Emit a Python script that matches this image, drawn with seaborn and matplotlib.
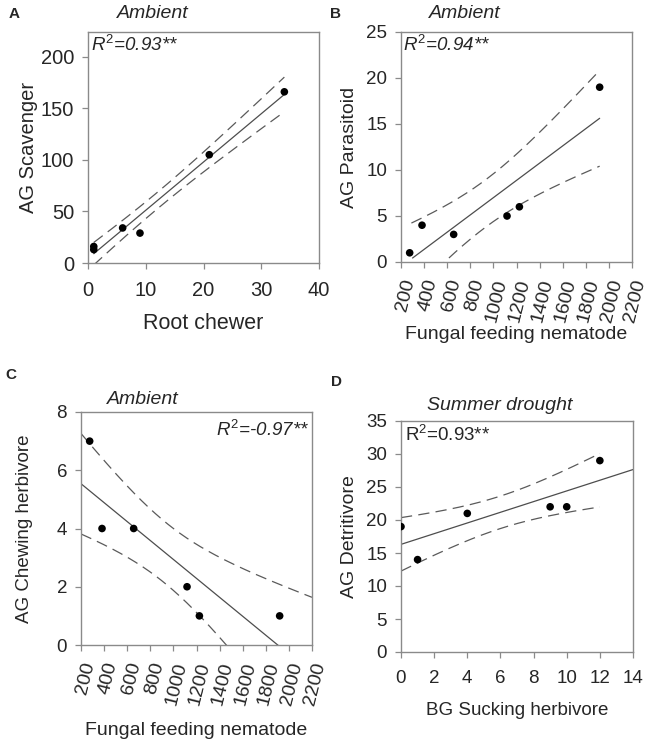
import matplotlib
matplotlib.use("Agg")

import matplotlib.pyplot as plt
import numpy as np
import seaborn as sns

sns.set_theme(style="ticks")
plt.rcParams['font.family'] = ['Liberation Sans', 'DejaVu Sans']
plt.rcParams['mathtext.fontset'] = 'custom'
plt.rcParams['mathtext.rm'] = 'Liberation Sans'
plt.rcParams['mathtext.it'] = 'Liberation Sans:italic'

# Panel A - ambient, root chewer vs AG scavenger
root_chewer = [1, 1, 6, 9, 21, 34]
ag_scavenger = [16, 13, 34, 29, 105, 166]

# Panel B - ambient, fungal feeding nematode vs AG parasitoid
fungal_nem = [275, 382, 656, 1118, 1225, 1920]
ag_parasitoid = [1, 4, 3, 5, 6, 19]

# Panel C - ambient, fungal feeding nematode vs AG chewing herbivore
ag_chewing = [7, 4, 4, 2, 1, 1]

# Panel D - summer drought, BG sucking herbivore vs AG detritivore
bg_sucking = [0, 1, 4, 9, 10, 12]
ag_detritivore = [19, 14, 21, 22, 22, 29]

W, H = 649, 743
fig = plt.figure(figsize=(W / 100, H / 100), dpi=100)


def box(left, top, right, bottom):
    # pixel box -> figure fraction
    return [left / W, 1 - bottom / H, (right - left) / W, (bottom - top) / H]


def fit_band(x, y, grid, z=2.0):
    x = np.asarray(x, float)
    y = np.asarray(y, float)
    b, a = np.polyfit(x, y, 1)
    res = y - (a + b * x)
    s = np.sqrt(np.sum(res ** 2) / (len(x) - 2))
    se = s * np.sqrt(1 / len(x) + (grid - x.mean()) ** 2 / np.sum((x - x.mean()) ** 2))
    fit = a + b * grid
    return fit, fit - z * se, fit + z * se


def panel(ax, x, y, line_rng, band_rng, xlim, ylim, xticks, yticks, tick_fs=13.5, rot=0):
    g1 = np.linspace(*line_rng, 200)
    g2 = np.linspace(*band_rng, 200)
    fit, _, _ = fit_band(x, y, g1)
    _, lo, hi = fit_band(x, y, g2)
    sns.lineplot(x=g1, y=fit, ax=ax, color='#4d4d4d', lw=0.9)
    sns.lineplot(x=g2, y=lo, ax=ax, color='#5a5a5a', lw=0.9, linestyle=(0, (9, 5)))
    sns.lineplot(x=g2, y=hi, ax=ax, color='#5a5a5a', lw=0.9, linestyle=(0, (9, 5)))
    sns.scatterplot(x=x, y=y, ax=ax, color='black', s=30, edgecolor='none', zorder=5)
    ax.set_xlim(*xlim)
    ax.set_ylim(*ylim)
    ax.set_xticks(xticks)
    ax.set_yticks(yticks)
    for sp in ax.spines.values():
        sp.set_color('#8a8a8a')
        sp.set_linewidth(1.0)
    ax.tick_params(color='#8a8a8a', length=4, width=0.9, labelsize=tick_fs, pad=6)
    if rot:
        ax.tick_params(axis='x', labelsize=14, pad=7)
        for lab in ax.get_xticklabels():
            lab.set_rotation(rot)
            lab.set_ha('right')
            lab.set_va('top')
            lab.set_rotation_mode('anchor')


def ftext(px, py, s, **kw):
    fig.text(px / W, 1 - py / H, s, **kw)


# A
axA = fig.add_axes(box(88, 32, 319, 263))
panel(axA, root_chewer, ag_scavenger, (1, 34), (1, 34), (0, 40), (0, 224),
      [0, 10, 20, 30, 40], [0, 50, 100, 150, 200], tick_fs=14.5)
axA.tick_params(axis='x', pad=9)
axA.set_xlabel('Root chewer', fontsize=15.5, labelpad=9)
axA.set_ylabel('AG Scavenger', fontsize=14.5, labelpad=2)

# B
axB = fig.add_axes(box(401, 32, 632, 262))
panel(axB, fungal_nem, ag_parasitoid, (300, 1920), (290, 1920), (200, 2200), (0, 25),
      range(200, 2201, 200), [0, 5, 10, 15, 20, 25], rot=76)
axB.set_xlabel('Fungal feeding nematode', fontsize=14, labelpad=2)
axB.set_ylabel('AG Parasitoid', fontsize=14, labelpad=6)

# C
axC = fig.add_axes(box(81, 412, 312, 645))
panel(axC, fungal_nem, ag_chewing, (200, 2200), (200, 2200), (200, 2200), (0, 8),
      range(200, 2201, 200), [0, 2, 4, 6, 8], rot=76)
axC.set_xlabel('Fungal feeding nematode', fontsize=14, labelpad=11)
axC.set_ylabel('AG Chewing herbivore', fontsize=13.5, labelpad=17)

# D
axD = fig.add_axes(box(401, 421, 633, 652))
panel(axD, bg_sucking, ag_detritivore, (0, 14), (0, 12), (0, 14), (0, 35),
      range(0, 15, 2), range(0, 36, 5))
axD.tick_params(axis='x', pad=9)
axD.set_xlabel('BG Sucking herbivore', fontsize=13.5, labelpad=11)
axD.set_ylabel('AG Detritivore', fontsize=14, labelpad=6)

# panel letters and titles
for px, py, s in [(14, 14, 'A'), (335, 14, 'B'), (11, 375, 'C'), (336, 382, 'D')]:
    ftext(px, py, s, fontsize=11, fontweight='bold', ha='center', va='center')
ftext(153, 14, 'Ambient', fontsize=14, style='italic', ha='center', va='center')
ftext(465, 14, 'Ambient', fontsize=14, style='italic', ha='center', va='center')
ftext(143, 400, 'Ambient', fontsize=14, style='italic', ha='center', va='center')
ftext(500, 405, 'Summer drought', fontsize=14, style='italic', ha='center', va='center')

# R-squared annotations
ftext(91, 45, r'$R^2$=0.93**', fontsize=13.5, style='italic', ha='left', va='center')
ftext(403, 45, r'$R^2$=0.94**', fontsize=13.5, style='italic', ha='left', va='center')
ftext(309, 430, r'$R^2$=-0.97**', fontsize=13.5, style='italic', ha='right', va='center')
ftext(405, 435, r'R$^2$=0.93**', fontsize=13.5, ha='left', va='center')

fig.savefig('out.png', dpi=100)
